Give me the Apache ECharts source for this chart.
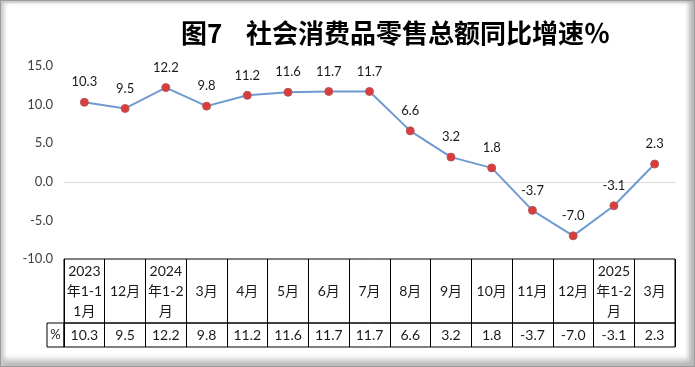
<!DOCTYPE html>
<html>
<head>
<meta charset="utf-8">
<script src="https://cdn.jsdelivr.net/npm/echarts@6/dist/echarts.min.js"></script>
<style>
  html, body { margin: 0; padding: 0; background: #fff; }
  #frame {
    position: relative; width: 695px; height: 367px; box-sizing: border-box;
    border: 1px solid #9a9a9a;
    box-shadow: inset 5px 0 4px -2px #c8c8c8, inset -7px 0 5px -2px #b8b8b8, inset 0 -8px 6px -2px #b8b8b8, inset 0 3px 3px -1px #c8c8c8;
  }
  #chart { position: absolute; left: 0; top: 0; width: 695px; height: 367px; }
</style>
</head>
<body>
<div id="frame"></div>
<div id="chart"></div>
<script>
const titleText = '图7    社会消费品零售总额同比增速％';
const categories = ['2023\n年1-1\n1月', '12月', '2024\n年1-2\n月', '3月', '4月', '5月', '6月', '7月', '8月', '9月', '10月', '11月', '12月', '2025\n年1-2\n月', '3月'];
const values = [10.3, 9.5, 12.2, 9.8, 11.2, 11.6, 11.7, 11.7, 6.6, 3.2, 1.8, -3.7, -7.0, -3.1, 2.3];
const rowLabel = ['%'];
const yMin = -10, yMax = 15, yInterval = 5;

const chart = echarts.init(document.getElementById('chart'), null, { renderer: 'canvas' });
const valueText = values.map(v => v.toFixed(1));
const txt = '#1a1a1a';
const latin = 'Lato, "Noto Sans CJK SC", sans-serif';

const tableLine = { show: true, interval: 0, lineStyle: { color: '#000', width: 1 } };
const hiddenY = (i) => ({ gridIndex: i, type: 'value', show: false, min: 0, max: 1 });

chart.setOption({
  animation: false,
  title: {
    text: titleText, left: 176, top: 15,
    textStyle: { fontFamily: '"Noto Sans CJK SC", sans-serif', fontSize: 26, fontWeight: 'bold', color: '#000' }
  },
  grid: [
    { left: 64, right: 20, top: 66, height: 193 },
    { left: 64, right: 20, top: 259, height: 64, show: true, borderColor: '#000', borderWidth: 1 },
    { left: 64, right: 20, top: 323, height: 24, show: true, borderColor: '#000', borderWidth: 1 },
    { left: 47, width: 17, top: 323, height: 24, show: true, borderColor: '#000', borderWidth: 1 }
  ],
  xAxis: [
    {
      gridIndex: 0, type: 'category', data: categories, boundaryGap: true,
      axisLine: { onZero: true, lineStyle: { color: '#d9d9d9', width: 1 } },
      axisTick: { show: false }, axisLabel: { show: false }, splitLine: { show: false }
    },
    {
      gridIndex: 1, type: 'category', data: categories, boundaryGap: true, position: 'top',
      axisLine: { show: false }, axisTick: { show: false }, splitLine: tableLine,
      axisLabel: { interval: 0, inside: true, margin: 32, verticalAlign: 'middle', lineHeight: 20,
        fontSize: 14, fontFamily: latin, color: txt, hideOverlap: false }
    },
    {
      gridIndex: 2, type: 'category', data: valueText, boundaryGap: true, position: 'top',
      axisLine: { show: false }, axisTick: { show: false }, splitLine: tableLine,
      axisLabel: { interval: 0, inside: true, margin: 12, verticalAlign: 'middle',
        fontSize: 14, fontFamily: latin, color: txt, hideOverlap: false }
    },
    {
      gridIndex: 3, type: 'category', data: rowLabel, boundaryGap: true, position: 'top',
      axisLine: { show: false }, axisTick: { show: false }, splitLine: { show: false },
      axisLabel: { interval: 0, inside: true, margin: 12, verticalAlign: 'middle',
        fontSize: 13, fontFamily: latin, color: txt }
    }
  ],
  yAxis: [
    {
      gridIndex: 0, type: 'value', min: yMin, max: yMax, interval: yInterval,
      axisLine: { show: false }, axisTick: { show: false }, splitLine: { show: false },
      axisLabel: { margin: 11, fontSize: 13, fontFamily: latin, color: '#404040', formatter: v => v.toFixed(1) }
    },
    hiddenY(1), hiddenY(2), hiddenY(3)
  ],
  series: [{
    type: 'line', xAxisIndex: 0, yAxisIndex: 0, data: values,
    symbol: 'circle', symbolSize: 8,
    lineStyle: { color: '#6f9ad0', width: 2 },
    itemStyle: { color: '#dc3b3b', borderColor: '#b05a5a', borderWidth: 1 },
    label: { show: true, position: 'top', distance: 9, fontSize: 13, fontFamily: latin, color: txt,
      formatter: p => p.value.toFixed(1) }
  }]
});
</script>
</body>
</html>
